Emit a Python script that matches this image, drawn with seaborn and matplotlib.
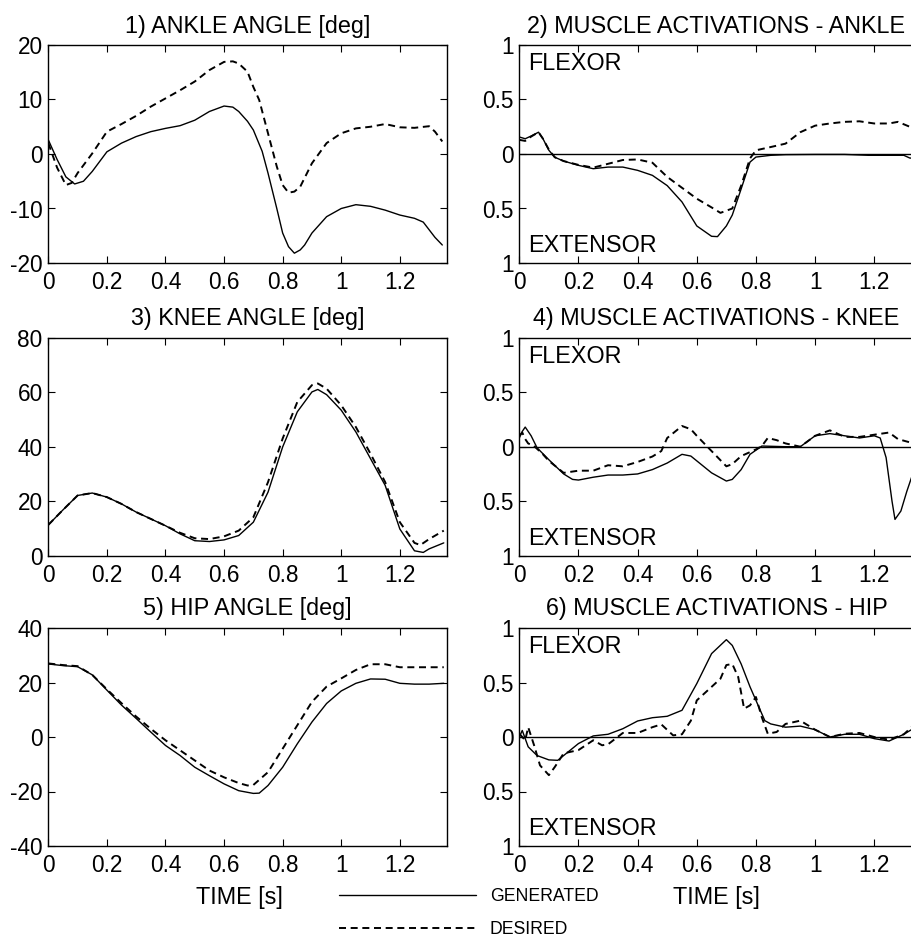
import matplotlib
matplotlib.use("Agg")
import matplotlib.pyplot as plt
import seaborn as sns
import pandas as pd

# ---- data (time in s) ----
# 1) ankle angle [deg]
ankle_gen_t = [0, 0.03, 0.06, 0.09, 0.12, 0.15, 0.2, 0.25, 0.3, 0.35, 0.4, 0.45, 0.5, 0.55, 0.6, 0.63,
               0.65, 0.68, 0.7, 0.73, 0.75, 0.78, 0.8, 0.82, 0.84, 0.86, 0.875, 0.9, 0.95, 1.0, 1.05,
               1.1, 1.15, 1.2, 1.25, 1.28, 1.3, 1.32, 1.345]
ankle_gen = [2.6, -1.0, -4.2, -5.5, -5.0, -3.2, 0.4, 2.0, 3.2, 4.1, 4.7, 5.2, 6.2, 7.8, 8.8, 8.6,
             7.8, 6.0, 4.4, 0.5, -3.5, -10.0, -14.5, -17.0, -18.2, -17.6, -16.7, -14.5, -11.5, -10.0, -9.3,
             -9.6, -10.3, -11.2, -11.8, -12.5, -13.9, -15.3, -16.7]
ankle_des_t = [0, 0.03, 0.06, 0.08, 0.1, 0.15, 0.2, 0.25, 0.3, 0.35, 0.4, 0.45, 0.5, 0.55, 0.6, 0.63,
               0.65, 0.68, 0.7, 0.72, 0.75, 0.78, 0.8, 0.82, 0.84, 0.86, 0.9, 0.95, 1.0, 1.05, 1.1,
               1.15, 1.2, 1.25, 1.3, 1.32, 1.345]
ankle_des = [2.0, -2.5, -5.7, -5.3, -3.5, 0.1, 4.1, 5.5, 7.0, 8.7, 10.2, 11.7, 13.3, 15.4, 16.9, 17.0,
             16.6, 15.1, 12.3, 9.9, 3.8, -2.3, -5.7, -7.1, -6.9, -6.0, -1.7, 2.0, 3.8, 4.7, 5.0,
             5.5, 4.9, 4.8, 5.1, 4.1, 2.3]

# 3) knee angle [deg]
knee_gen_t = [0, 0.05, 0.1, 0.15, 0.2, 0.25, 0.3, 0.35, 0.4, 0.45, 0.5, 0.55, 0.6, 0.65, 0.7, 0.75,
              0.8, 0.85, 0.9, 0.92, 0.95, 1.0, 1.05, 1.1, 1.15, 1.2, 1.25, 1.28, 1.3, 1.35]
knee_gen = [11.3, 16.8, 22.1, 23.0, 21.5, 19.0, 16.0, 13.5, 11.0, 8.0, 5.5, 5.2, 5.8, 7.4, 12.3, 23.3,
            39.9, 52.8, 60.1, 61.0, 59.1, 53.4, 45.4, 35.6, 25.8, 9.8, 1.8, 1.2, 2.5, 4.7]
knee_des_t = [0, 0.05, 0.1, 0.15, 0.2, 0.25, 0.3, 0.35, 0.4, 0.45, 0.5, 0.55, 0.6, 0.65, 0.7, 0.75,
              0.8, 0.85, 0.9, 0.92, 0.95, 1.0, 1.05, 1.1, 1.15, 1.2, 1.25, 1.27, 1.3, 1.35]
knee_des = [11.3, 16.8, 22.1, 23.0, 21.5, 19.0, 16.0, 13.5, 11.0, 8.4, 6.4, 6.1, 7.1, 9.2, 14.1, 27.0,
            43.0, 56.4, 62.6, 63.2, 61.3, 55.2, 47.2, 37.4, 27.0, 12.3, 4.7, 3.9, 6.1, 9.2]

# 5) hip angle [deg]
hip_gen_t = [0, 0.05, 0.1, 0.15, 0.2, 0.25, 0.3, 0.35, 0.4, 0.45, 0.5, 0.55, 0.6, 0.65, 0.7, 0.72,
             0.75, 0.8, 0.85, 0.9, 0.95, 1.0, 1.05, 1.1, 1.15, 1.2, 1.25, 1.3, 1.35]
hip_gen = [26.8, 26.2, 25.8, 22.8, 17.2, 11.7, 6.8, 1.8, -3.1, -6.8, -11.1, -14.2, -17.2, -19.7, -20.7, -20.6,
           -17.8, -11.1, -2.5, 5.5, 12.3, 16.9, 19.7, 21.3, 21.2, 19.7, 19.4, 19.4, 19.7]
hip_des_t = [0, 0.05, 0.1, 0.15, 0.2, 0.25, 0.3, 0.35, 0.4, 0.45, 0.5, 0.55, 0.6, 0.65, 0.68, 0.7,
             0.75, 0.8, 0.85, 0.9, 0.95, 1.0, 1.05, 1.1, 1.15, 1.2, 1.25, 1.35]
hip_des = [27.0, 26.4, 26.0, 22.8, 17.5, 12.4, 7.5, 3.0, -1.2, -4.9, -8.6, -12.3, -14.8, -16.9, -17.8, -17.6,
           -12.9, -4.3, 4.3, 12.9, 18.5, 21.5, 24.6, 26.7, 26.7, 25.6, 25.6, 25.6]

# 2) muscle activations - ankle (flexor > 0, extensor < 0)
act_ankle_gen_t = [0, 0.02, 0.04, 0.065, 0.08, 0.1, 0.12, 0.15, 0.2, 0.25, 0.3, 0.35, 0.4, 0.45, 0.5,
                   0.55, 0.6, 0.65, 0.67, 0.7, 0.72, 0.75, 0.78, 0.8, 0.85, 0.9, 1.0, 1.1, 1.18, 1.3,
                   1.32, 1.35]
act_ankle_gen = [0.156, 0.14, 0.165, 0.2, 0.14, 0.034, -0.03, -0.065, -0.104, -0.135, -0.12, -0.12, -0.15,
                 -0.196, -0.29, -0.44, -0.66, -0.755, -0.758, -0.66, -0.56, -0.32, -0.074, -0.028, -0.012,
                 -0.006, -0.004, -0.004, -0.012, -0.012, -0.037, -0.04]
act_ankle_des_t = [0, 0.02, 0.04, 0.065, 0.08, 0.1, 0.12, 0.15, 0.2, 0.25, 0.3, 0.35, 0.4, 0.45, 0.5,
                   0.55, 0.6, 0.65, 0.68, 0.72, 0.75, 0.78, 0.8, 0.85, 0.9, 0.95, 1.0, 1.05, 1.1, 1.15,
                   1.2, 1.25, 1.28, 1.32, 1.35]
act_ankle_des = [0.13, 0.12, 0.16, 0.2, 0.14, 0.04, -0.03, -0.065, -0.1, -0.125, -0.09, -0.055, -0.05,
                 -0.08, -0.21, -0.31, -0.41, -0.49, -0.54, -0.5, -0.29, -0.04, 0.034, 0.064, 0.095, 0.2,
                 0.26, 0.28, 0.295, 0.3, 0.28, 0.28, 0.295, 0.25, 0.19]

# 4) muscle activations - knee
act_knee_gen_t = [0, 0.01, 0.02, 0.04, 0.06, 0.1, 0.15, 0.18, 0.2, 0.25, 0.3, 0.35, 0.4, 0.45, 0.5, 0.55,
                  0.58, 0.6, 0.65, 0.7, 0.72, 0.75, 0.78, 0.82, 0.9, 0.95, 1.0, 1.05, 1.1, 1.15, 1.2,
                  1.22, 1.24, 1.26, 1.27, 1.29, 1.31, 1.33, 1.35]
act_knee_gen = [0.08, 0.14, 0.18, 0.1, -0.01, -0.12, -0.25, -0.3, -0.306, -0.28, -0.26, -0.26, -0.25,
                -0.21, -0.15, -0.07, -0.086, -0.13, -0.24, -0.315, -0.3, -0.21, -0.07, 0.006, 0.0, 0.0,
                0.1, 0.12, 0.1, 0.08, 0.1, 0.08, -0.1, -0.5, -0.667, -0.59, -0.41, -0.25, -0.16]
act_knee_des_t = [0, 0.01, 0.02, 0.03, 0.05, 0.08, 0.1, 0.15, 0.2, 0.25, 0.3, 0.35, 0.4, 0.45, 0.48,
                  0.5, 0.55, 0.58, 0.6, 0.65, 0.7, 0.72, 0.75, 0.8, 0.82, 0.84, 0.87, 0.9, 0.95, 1.0,
                  1.05, 1.1, 1.15, 1.2, 1.25, 1.28, 1.32, 1.35]
act_knee_des = [0.1, 0.13, 0.07, 0.03, 0.006, -0.07, -0.13, -0.24, -0.22, -0.22, -0.17, -0.18, -0.14,
                -0.09, -0.04, 0.08, 0.19, 0.16, 0.1, -0.04, -0.18, -0.16, -0.086, -0.025, 0.006, 0.08,
                0.06, 0.03, 0.0, 0.1, 0.15, 0.09, 0.09, 0.11, 0.13, 0.07, 0.04, -0.07]

# 6) muscle activations - hip
act_hip_gen_t = [0, 0.01, 0.03, 0.06, 0.1, 0.13, 0.15, 0.2, 0.25, 0.3, 0.35, 0.4, 0.45, 0.5, 0.55, 0.6,
                 0.65, 0.7, 0.72, 0.75, 0.78, 0.8, 0.83, 0.85, 0.9, 0.95, 1.0, 1.05, 1.1, 1.15, 1.2,
                 1.25, 1.3, 1.35]
act_hip_gen = [0.0, 0.06, -0.09, -0.17, -0.21, -0.214, -0.17, -0.06, 0.01, 0.025, 0.076, 0.147, 0.177,
               0.19, 0.245, 0.49, 0.765, 0.893, 0.84, 0.67, 0.46, 0.336, 0.15, 0.12, 0.09, 0.1, 0.067,
               0.0, 0.025, 0.025, -0.015, -0.037, 0.025, 0.107]
act_hip_des_t = [0, 0.02, 0.03, 0.05, 0.07, 0.1, 0.12, 0.15, 0.2, 0.25, 0.28, 0.3, 0.35, 0.4, 0.45, 0.48,
                 0.52, 0.55, 0.58, 0.6, 0.65, 0.68, 0.7, 0.72, 0.74, 0.76, 0.78, 0.8, 0.82, 0.84, 0.87,
                 0.9, 0.95, 1.0, 1.05, 1.1, 1.15, 1.2, 1.25, 1.3, 1.35]
act_hip_des = [0.03, -0.03, 0.09, -0.076, -0.26, -0.35, -0.275, -0.15, -0.12, -0.03, -0.076, -0.067,
               0.037, 0.037, 0.09, 0.116, 0.015, 0.025, 0.15, 0.336, 0.46, 0.535, 0.66, 0.67, 0.55,
               0.26, 0.29, 0.367, 0.18, 0.03, 0.046, 0.12, 0.15, 0.067, 0.0, 0.03, 0.037, 0.0, -0.025,
               0.025, 0.15]

angle_titles = ["1) ANKLE ANGLE [deg]", "3) KNEE ANGLE [deg]", "5) HIP ANGLE [deg]"]
act_titles = ["2) MUSCLE ACTIVATIONS - ANKLE", "4) MUSCLE ACTIVATIONS - KNEE", "6) MUSCLE ACTIVATIONS - HIP"]
angle_ylims = [(-20, 20), (0, 80), (-40, 40)]
angle_yticks = [[-20, -10, 0, 10, 20], [0, 20, 40, 60, 80], [-40, -20, 0, 20, 40]]
act_yticks = [-1, -0.5, 0, 0.5, 1]
act_yticklabels = ["1", "0.5", "0", "0.5", "1"]
xticks = [0, 0.2, 0.4, 0.6, 0.8, 1.0, 1.2]
xticklabels = ["0", "0.2", "0.4", "0.6", "0.8", "1", "1.2"]

angles = [(ankle_gen_t, ankle_gen, ankle_des_t, ankle_des),
          (knee_gen_t, knee_gen, knee_des_t, knee_des),
          (hip_gen_t, hip_gen, hip_des_t, hip_des)]
acts = [(act_ankle_gen_t, act_ankle_gen, act_ankle_des_t, act_ankle_des),
        (act_knee_gen_t, act_knee_gen, act_knee_des_t, act_knee_des),
        (act_hip_gen_t, act_hip_gen, act_hip_des_t, act_hip_des)]

# ---- style ----
sns.set_style("ticks")
plt.rcParams['font.family'] = ['Liberation Sans', 'DejaVu Sans']
plt.rcParams['text.color'] = 'black'
plt.rcParams['axes.labelcolor'] = 'black'
plt.rcParams['xtick.color'] = 'black'
plt.rcParams['ytick.color'] = 'black'
plt.rcParams['axes.edgecolor'] = 'black'
plt.rcParams['xtick.direction'] = 'in'
plt.rcParams['ytick.direction'] = 'in'
plt.rcParams['xtick.top'] = True
plt.rcParams['ytick.right'] = True
plt.rcParams['axes.linewidth'] = 1.0
plt.rcParams['xtick.major.size'] = 5
plt.rcParams['ytick.major.size'] = 5

W, H = 912, 938
fig = plt.figure(figsize=(W / 100, H / 100), dpi=100)

row_tops = [45, 337.7, 628]
row_h = 218
left_x0, left_w = 48.3, 398.4
right_x0, right_w = 519.3, 402.3
dash_style = (0, (3.6, 2.4))
fs_title = 16.8
fs_tick = 16.3


def draw(ax, gt, gv, dt, dv):
    sns.lineplot(x=gt, y=gv, ax=ax, color='black', lw=1.0, estimator=None, sort=False)
    sns.lineplot(x=dt, y=dv, ax=ax, color='black', lw=1.4, linestyle=dash_style,
                 estimator=None, sort=False)


axes_left, axes_right = [], []
for i in range(3):
    b = 1 - (row_tops[i] + row_h) / H
    ax = fig.add_axes([left_x0 / W, b, left_w / W, row_h / H])
    draw(ax, *angles[i])
    ax.set_xlim(0, 1.36)
    ax.set_ylim(*angle_ylims[i])
    ax.set_yticks(angle_yticks[i])
    ax.set_yticklabels([str(v) for v in angle_yticks[i]])
    ax.set_xticks(xticks)
    ax.set_xticklabels(xticklabels)
    ax.set_title(angle_titles[i], fontsize=fs_title, pad=9)
    ax.tick_params(labelsize=fs_tick)
    ax.tick_params(axis='x', pad=6)
    ax.tick_params(axis='y', pad=4)
    axes_left.append(ax)

    ax2 = fig.add_axes([right_x0 / W, b, right_w / W, row_h / H])
    ax2.axhline(0, color='black', lw=1.0)
    draw(ax2, *acts[i])
    ax2.set_xlim(0, 1.36)
    ax2.set_ylim(-1, 1)
    ax2.set_yticks(act_yticks)
    ax2.set_yticklabels(act_yticklabels)
    ax2.set_xticks(xticks)
    ax2.set_xticklabels(xticklabels)
    ax2.set_title(act_titles[i], fontsize=fs_title, pad=9, x=0.49)
    ax2.tick_params(labelsize=fs_tick)
    ax2.tick_params(axis='x', pad=6)
    ax2.tick_params(axis='y', pad=4)
    ax2.text(0.022, 0.915, "FLEXOR", transform=ax2.transAxes, fontsize=fs_title, va='center', ha='left')
    ax2.text(0.022, 0.08, "EXTENSOR", transform=ax2.transAxes, fontsize=fs_title, va='center', ha='left')
    axes_right.append(ax2)

for ax in axes_left + axes_right:
    ax.set_ylabel("")

axes_left[2].set_xlabel("TIME [s]", fontsize=fs_title)
axes_right[2].set_xlabel("TIME [s]", fontsize=fs_title)
axes_left[2].xaxis.set_label_coords(0.48, -0.185)
axes_right[2].xaxis.set_label_coords(0.49, -0.185)

handles = axes_left[2].lines[:2]
fig.legend(handles, ["GENERATED", "DESIRED"], loc='upper left',
           bbox_to_anchor=(330 / W, 1 - 879 / H), frameon=False, fontsize=12.7,
           handlelength=7.8, handletextpad=0.75, labelspacing=0.9, borderpad=0)

fig.savefig("out.png", dpi=100)
